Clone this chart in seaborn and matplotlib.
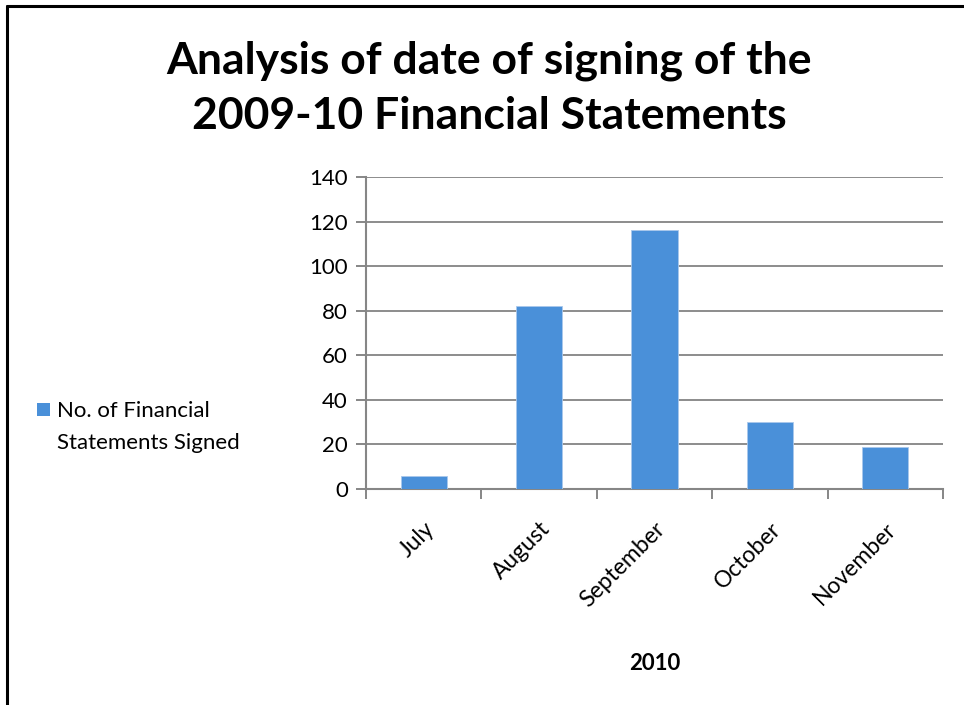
import matplotlib
matplotlib.use("Agg")
import matplotlib.pyplot as plt
import seaborn as sns
import pandas as pd
from matplotlib.lines import Line2D
from matplotlib.patches import Rectangle

months = ["July", "August", "September", "October", "November"]
signed = [6, 82, 116, 30, 19]
series_name = "No. of Financial\nStatements Signed"
title = "Analysis of date of signing of the\n2009-10 Financial Statements"
xlabel = "2010"
yticks = [0, 20, 40, 60, 80, 100, 120, 140]

sns.set_theme(style="white")
plt.rcParams['font.family'] = ['Lato', 'DejaVu Sans']

W, H = 964, 705
fig = plt.figure(figsize=(W / 100, H / 100), dpi=100)
ax = fig.add_axes([366 / W, 1 - 489 / H, (943 - 366) / W, (489 - 177) / H])

df = pd.DataFrame({"month": months, "count": signed})
bar_color = "#4A90D9"
sns.barplot(data=df, x="month", y="count", color=bar_color, width=0.4,
            saturation=1, ax=ax, edgecolor="#A9C8EC", linewidth=0.6, zorder=3)

ax.set_ylim(0, 140)
ax.set_xlim(-0.5, len(months) - 0.5)
ax.set_yticks(yticks)
ax.set_yticklabels([str(v) for v in yticks], fontsize=16)
ax.yaxis.grid(True, color="#8C8C8C", linewidth=1.4, zorder=0)
ax.set_axisbelow(True)

for s in ["top", "right"]:
    ax.spines[s].set_visible(False)
for s in ["left", "bottom"]:
    ax.spines[s].set_color("#868686")
    ax.spines[s].set_linewidth(1.5)

ax.tick_params(axis="y", which="both", left=True, length=7, width=1.4,
               color="#868686", pad=6, labelcolor="black")
# x category labels
ax.set_xticks(range(len(months)))
ax.set_xticklabels(months, rotation=45, ha="right", rotation_mode="anchor",
                   fontsize=16.5, color="black")
ax.tick_params(axis="x", which="major", bottom=False, pad=15)
# boundary tick marks
ax.set_xticks([i - 0.5 for i in range(len(months) + 1)], minor=True)
ax.tick_params(axis="x", which="minor", bottom=True, length=7, width=1.4,
               color="#868686")
ax.set_xlabel(xlabel, fontsize=16, fontweight="bold", labelpad=30, color="black")
ax.set_ylabel("")

# title
fig.text(489 / W, 1 - 88 / H, title, ha="center", va="center",
         fontsize=32, fontweight="bold", linespacing=1.45, color="black")

# legend
fig.patches.append(Rectangle((37 / W, 1 - 416 / H), 13 / W, 13 / H,
                             transform=fig.transFigure, facecolor=bar_color,
                             edgecolor="none", figure=fig))
fig.text(57 / W, 1 - 427 / H, series_name, ha="left", va="center",
         fontsize=16, linespacing=1.7, color="black")

# outer border (cropped box)
fig.lines.append(Line2D([7 / W, 7 / W], [0, 1 - 6 / H], transform=fig.transFigure,
                        color="black", linewidth=2.2))
fig.lines.append(Line2D([7 / W, 1], [1 - 6 / H, 1 - 6 / H], transform=fig.transFigure,
                        color="black", linewidth=2.2))

fig.savefig("out.png", dpi=100)
